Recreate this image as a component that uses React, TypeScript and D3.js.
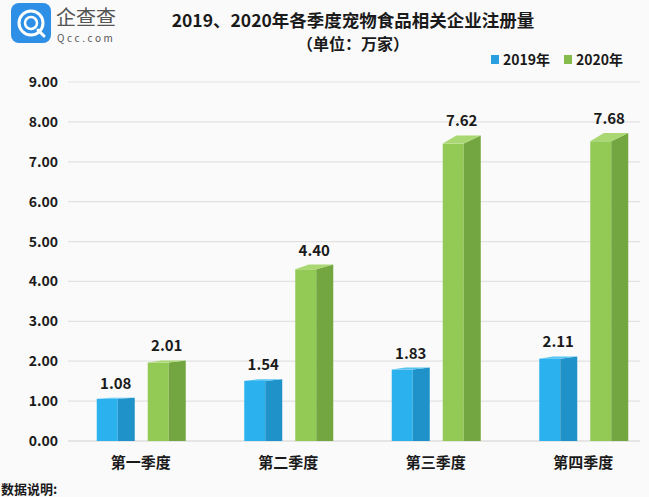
import React from "react";
import * as d3 from "d3";

const categories = ["第一季度", "第二季度", "第三季度", "第四季度"];
const seriesNames = ["2019年", "2020年"];
const values2019 = [1.08, 1.54, 1.83, 2.11];
const values2020 = [2.01, 4.4, 7.62, 7.68];
const yTicks = [0, 1, 2, 3, 4, 5, 6, 7, 8, 9];

const W = 649;
const H = 497;
const FONT = "'Noto Sans CJK SC', 'Noto Sans', sans-serif";

const palettes = [
  { front: "#2BB1EE", side: "#1F92C9", top: "#55C3F3", legend: "#2A9FE0" },
  { front: "#93C955", side: "#73A641", top: "#A9D872", legend: "#86BC4C" },
];

export default function App() {
  const x = d3.scaleBand<string>().domain(categories).range([67, 657]).padding(0);
  const x1 = d3.scaleBand<string>().domain(seriesNames).range([0, 102]).padding(0);
  const y = d3.scaleLinear().domain([0, 9]).range([441, 82]);
  const base = y(0);
  const frontW = 21;
  const depth = 17;

  const series = [values2019, values2020];

  const bars: React.ReactNode[] = [];
  const labels: React.ReactNode[] = [];
  categories.forEach((c, ci) => {
    const center = (x(c) as number) + x.bandwidth() / 2;
    series.forEach((vals, si) => {
      const v = vals[ci];
      const x0 = center - 44 + (x1(seriesNames[si]) as number);
      const yv = y(v);
      const d = 0.027 * (base - yv);
      const front = yv + 0.8 * d;
      const back = front - d;
      const p = palettes[si];
      bars.push(
        <g key={`b-${ci}-${si}`}>
          <rect x={x0} y={front} width={frontW} height={base - front} fill={p.front} />
          <path
            d={`M${x0 + frontW},${front} L${x0 + frontW + depth},${back} L${x0 + frontW + depth},${base} L${x0 + frontW},${base} Z`}
            fill={p.side}
          />
          <path
            d={`M${x0},${front} L${x0 + depth * 0.8},${back} L${x0 + frontW + depth},${back} L${x0 + frontW},${front} Z`}
            fill={p.top}
          />
        </g>
      );
      labels.push(
        <text
          key={`l-${ci}-${si}`}
          x={x0 + (frontW + depth) / 2}
          y={back - 9}
          textAnchor="middle"
          fontSize={15}
          fontWeight="bold"
          fill="#1a1a1a"
          fontFamily={FONT}
        >
          {v.toFixed(2)}
        </text>
      );
    });
  });

  return (
    <svg
      width={W}
      height={H}
      style={{ position: "absolute", left: 0, top: 0, background: "#fafafa" }}
      fontFamily={FONT}
    >
      <rect x={0} y={0} width={W} height={H} fill="#fafafa" />
      {/* logo */}
      <g>
        <rect x={11} y={3} width={40} height={40} rx={8} fill="#2D8FE6" />
        <circle cx={31} cy={23} r={12} fill="none" stroke="#fff" strokeWidth={3} />
        <circle cx={31} cy={23} r={6} fill="none" stroke="#fff" strokeWidth={2.5} />
        <path d="M38,30 L44,36" stroke="#fff" strokeWidth={3} strokeLinecap="round" />
        <text x={56} y={25} fontSize={20} fill="#555" fontFamily={FONT}>
          企查查
        </text>
        <text x={57} y={42} fontSize={10} fill="#555" letterSpacing={2.6} fontFamily={FONT}>
          Qcc.com
        </text>
      </g>
      {/* title */}
      <text x={353} y={27} textAnchor="middle" fontSize={17.5} fontWeight="bold" fill="#1a1a1a">
        2019、2020年各季度宠物食品相关企业注册量
      </text>
      <text x={353} y={50} textAnchor="middle" fontSize={16} fontWeight="bold" fill="#1a1a1a">
        （单位：万家）
      </text>
      {/* legend */}
      {seriesNames.map((s, i) => (
        <g key={s} transform={`translate(${491 + i * 73},0)`}>
          <rect x={0} y={55} width={8} height={9} fill={palettes[i].legend} />
          <text x={12} y={65} fontSize={14} fontWeight="bold" fill="#1a1a1a">
            {s}
          </text>
        </g>
      ))}
      {/* grid */}
      {yTicks.map((t) => (
        <g key={t}>
          <line x1={68} x2={640} y1={y(t)} y2={y(t)} stroke={t === 0 ? "#cfcfcf" : "#e2e2e2"} strokeWidth={1.2} />
          <text x={58} y={y(t) + 5} textAnchor="end" fontSize={14} fontWeight="bold" fill="#1a1a1a">
            {t.toFixed(2)}
          </text>
        </g>
      ))}
      {bars}
      {labels}
      {categories.map((c) => (
        <text
          key={c}
          x={(x(c) as number) + x.bandwidth() / 2}
          y={468}
          textAnchor="middle"
          fontSize={15}
          fontWeight="bold"
          fill="#1a1a1a"
        >
          {c}
        </text>
      ))}
      <text x={1} y={494} fontSize={13} fontWeight="bold" fill="#1a1a1a">
        数据说明:
      </text>
    </svg>
  );
}
